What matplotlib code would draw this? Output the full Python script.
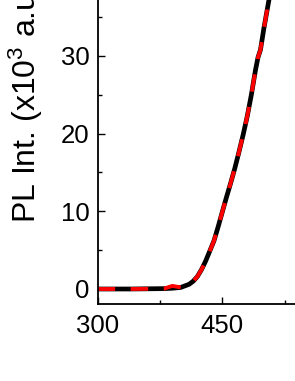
import numpy as np
import matplotlib
matplotlib.use("Agg")
import matplotlib.pyplot as plt
from matplotlib.ticker import MultipleLocator

plt.rcParams['font.family'] = ['Liberation Sans', 'DejaVu Sans']
plt.rcParams['mathtext.default'] = 'regular'

# wavelength (nm) and PL intensity (x10^3 a.u.)
wavelength = [300, 340, 380, 390, 400, 410, 415, 420, 425, 430, 435, 440, 445,
              450, 455, 460, 465, 470, 475, 480, 485, 490, 493, 496, 500, 505,
              510, 515]
pl_measured = [0, 0, 0.05, 0.1, 0.2, 0.6, 1.0, 1.6, 2.5, 3.6, 4.9, 6.2, 8.0,
               9.9, 11.8, 13.6, 15.5, 17.6, 19.8, 22.2, 25.0, 28.2, 29.8, 30.8,
               33.5, 36.5, 39.5, 42.5]
pl_fit = [0, 0, 0.05, 0.4, 0.2, 0.6, 1.0, 1.6, 2.5, 3.6, 4.9, 6.2, 8.0,
          9.9, 11.8, 13.6, 15.5, 17.6, 19.8, 22.2, 25.0, 28.2, 29.8, 30.8,
          33.5, 36.5, 39.5, 42.5]

fig = plt.figure(figsize=(2.95, 3.81), dpi=100)

# the axes runs past the top and right edges, like a cropped panel
ax = fig.add_axes([0.331, 0.2013, 0.845, 1.06])
ax.set_xlim(300, 600)
ax.set_ylim(-1.97, 50)

ax.plot(wavelength, pl_measured, color='black', lw=3.4, solid_capstyle='round')
ax.plot(wavelength, pl_fit, color='red', lw=2.8, dashes=(4.5, 4))

ax.set_xticks([300, 450])
ax.xaxis.set_minor_locator(MultipleLocator(75))
ax.yaxis.set_major_locator(MultipleLocator(10))
ax.yaxis.set_minor_locator(MultipleLocator(5))
ax.tick_params(which='both', direction='in', width=1.0, labelsize=18.5, pad=6)
ax.tick_params(which='major', length=5)
ax.tick_params(which='minor', length=3)
ax.tick_params(axis='x', pad=7)
for s in ax.spines.values():
    s.set_linewidth(1.3)

fig.text(0.088, 0.415, 'PL Int. (x10$^3$ a.u.)', rotation=90, fontsize=23,
         ha='center', va='bottom')

fig.savefig('out.png', dpi=100)
